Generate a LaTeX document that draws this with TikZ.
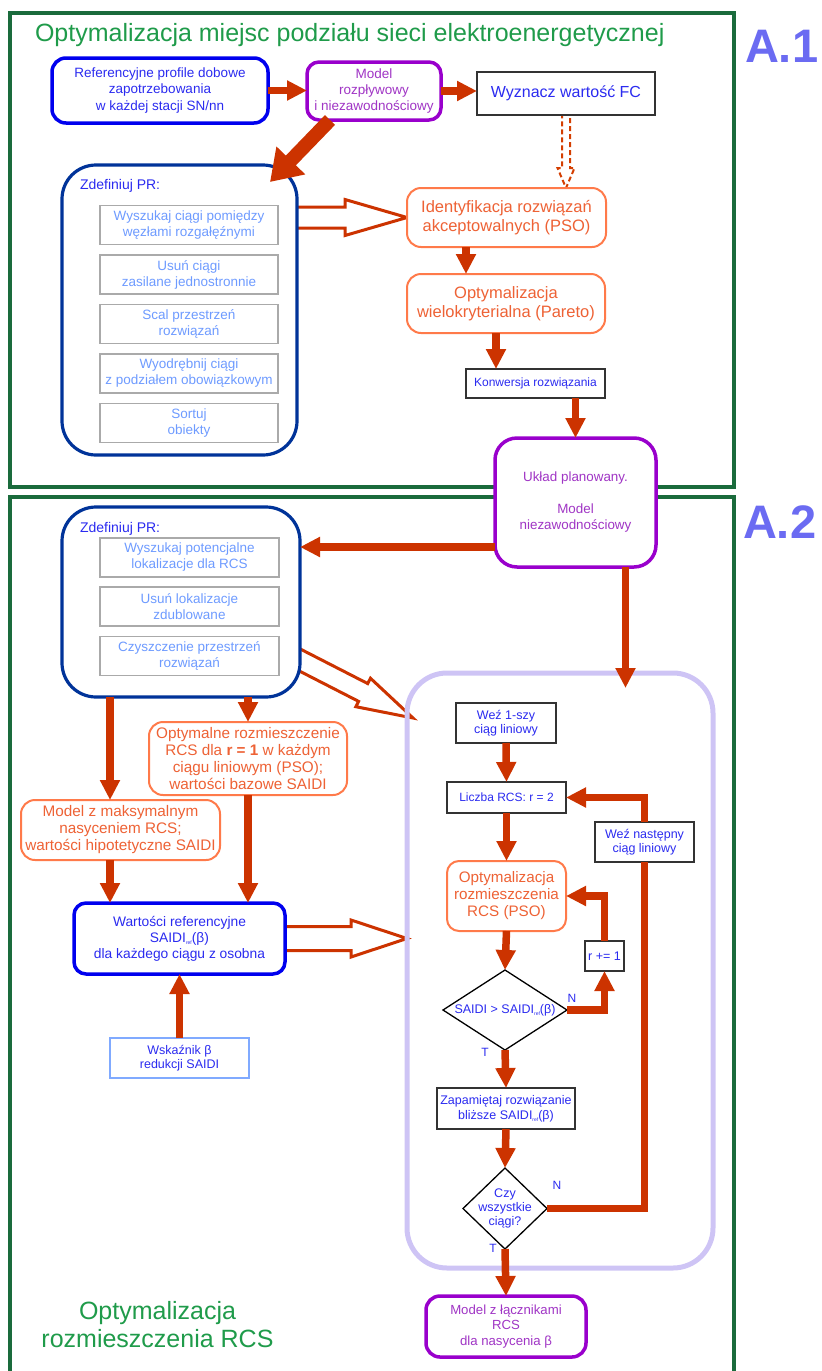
\documentclass[tikz,border=0pt]{standalone}
\usepackage{fontspec}
\setmainfont{Liberation Sans}
\usetikzlibrary{arrows.meta,shapes.geometric,calc}
\pgfdeclarelayer{bg}
\pgfsetlayers{bg,main}

\definecolor{framegreen}{HTML}{1A6B3C}
\definecolor{titlegreen}{HTML}{1F9B4A}
\definecolor{labelblue}{HTML}{6B6BF2}
\definecolor{flowred}{HTML}{CC3300}
\definecolor{nodeblue}{HTML}{0000EE}
\definecolor{textblue}{HTML}{2B2BF0}
\definecolor{navy}{HTML}{003399}
\definecolor{subgray}{HTML}{AAAAAA}
\definecolor{subtext}{HTML}{6E9BFF}
\definecolor{coral}{HTML}{FF7A4A}
\definecolor{coraltext}{HTML}{EE6235}
\definecolor{violet}{HTML}{9900CC}
\definecolor{violettext}{HTML}{A035C5}
\definecolor{lavender}{HTML}{CEC4F5}
\definecolor{paleblue}{HTML}{80AAFF}
\definecolor{boxblack}{HTML}{333333}

\newcommand\fsz[2]{\fontsize{#1}{#2}\selectfont}
\newcommand\saidiref{SAIDI\raisebox{-0.3ex}{\fontsize{5}{5}\selectfont ref}(β)}

% hollow block arrow: [style]{start}{tip}{half shaft}{half head}{head length}
\newcommand\hollowarrow[6][]{%
  \coordinate (ha-base) at ($(#3)!#6!(#2)$);
  \draw[hollow,#1] ($(#2)!#4!90:(#3)$) -- ($(ha-base)!#4!90:(#3)$)
    -- ($(ha-base)!#5!90:(#3)$) -- (#3) -- ($(ha-base)!#5!-90:(#3)$)
    -- ($(ha-base)!#4!-90:(#3)$) -- ($(#2)!#4!-90:(#3)$) -- cycle;
}

\tikzset{
  every node/.style={inner sep=0pt, outer sep=0pt, align=center},
  frame/.style={draw=framegreen, line width=4pt},
  bluebox/.style={draw=nodeblue, line width=3.5pt, rounded corners=14pt, fill=white, text=textblue},
  violetbox/.style={draw=violet, line width=3.5pt, rounded corners=14pt, fill=white, text=violettext},
  plainbox/.style={draw=boxblack, line width=1.8pt, fill=white, text=textblue},
  coralbox/.style={draw=coral, line width=2pt, rounded corners=14pt, fill=white, text=coraltext},
  prbox/.style={draw=navy, line width=3.2pt, rounded corners=34pt, fill=white},
  subbox/.style={draw=subgray, line width=1.8pt, fill=white, text=subtext,
    minimum width=178pt, minimum height=39pt, font=\fsz{13.5}{16}},
  decision/.style={shape=diamond, draw=black, line width=1.3pt, fill=white},
  flow/.style={draw=flowred, line width=7.5pt, -{Triangle[length=20pt,width=19pt]}},
  bigflow/.style={draw=flowred, line width=14pt, -{Triangle[length=30pt,width=38pt]}},
  flowline/.style={draw=flowred, line width=7.5pt},
  hollow/.style={draw=flowred, line width=3pt, fill=white, line join=miter},
  dashhollow/.style={draw=flowred!85!orange, line width=2pt, dash pattern=on 5pt off 3pt},
  lab/.style={text=textblue, font=\fsz{12}{14}},
}

\begin{document}
\begin{tikzpicture}[x=1pt, y=-1pt]
\useasboundingbox (0,0) rectangle (822,1371);

% section frames
\draw[frame] (10,13) rectangle (734,487);
\draw[frame] (10,1380) -- (10,497) -- (734,497) -- (734,1380);

\node[anchor=base west, text=titlegreen, font=\fsz{25}{28}] (title1) at (35,41)
  {Optymalizacja miejsc podziału sieci elektroenergetycznej};
\node[anchor=base west, text=labelblue, font=\fsz{47}{50}\bfseries] (tagA1) at (745,62) {A.1};
\node[anchor=base west, text=labelblue, font=\fsz{47}{50}\bfseries] (tagA2) at (743,538) {A.2};
\node[text=titlegreen, font=\fsz{25}{28}] (title2) at (157.5,1325)
  {Optymalizacja\\rozmieszczenia RCS};

% loop container
\node[draw=lavender, line width=5pt, rounded corners=40pt,
  minimum width=306pt, minimum height=595pt] (lav) at (560,970.5) {};

% ---- A.1 ----
\node[bluebox, minimum width=216pt, minimum height=65pt, font=\fsz{13.5}{16.5}] (ref) at (160,90.5)
  {Referencyjne profile dobowe\\zapotrzebowania\\w każdej stacji SN/nn};
\node[violetbox, rounded corners=12pt, minimum width=134pt, minimum height=58pt, font=\fsz{13.5}{16}] (mod) at (374,91)
  {Model\\rozpływowy\\i niezawodnościowy};
\node[plainbox, minimum width=178pt, minimum height=43pt, font=\fsz{16}{19}] (fc) at (566,93.5)
  {Wyznacz wartość FC};

\node[prbox, minimum width=235pt, minimum height=290pt] (pr1) at (179.5,310) {};
\node[anchor=base west, text=textblue, font=\fsz{14}{16}] (pr1t) at (80,189) {Zdefiniuj PR:};
\node[subbox] (s1) at (189,225) {Wyszukaj ciągi pomiędzy\\węzłami rozgałęźnymi};
\node[subbox] (s2) at (189,274.5) {Usuń ciągi\\zasilane jednostronnie};
\node[subbox] (s3) at (189,324) {Scal przestrzeń\\rozwiązań};
\node[subbox] (s4) at (189,373.5) {Wyodrębnij ciągi\\z podziałem obowiązkowym};
\node[subbox] (s5) at (189,423) {Sortuj\\obiekty};

\node[coralbox, minimum width=199pt, minimum height=59pt, font=\fsz{16.5}{18.5}] (ident) at (506.5,217.5)
  {Identyfikacja rozwiązań\\akceptowalnych (PSO)};
\node[coralbox, minimum width=198pt, minimum height=59pt, font=\fsz{16.5}{18.5}] (pareto) at (506,303.5)
  {Optymalizacja\\wielokryterialna (Pareto)};
\node[plainbox, minimum width=139pt, minimum height=29pt, font=\fsz{12}{14}] (konw) at (535.5,383.5)
  {Konwersja rozwiązania};
\node[violetbox, rounded corners=22pt, minimum width=161pt, minimum height=129pt, font=\fsz{13.4}{16}] (uklad) at (575.5,502.5)
  {Układ planowany.\\[16pt]Model\\niezawodnościowy};

% ---- A.2 ----
\node[prbox, minimum width=238pt, minimum height=190pt] (pr2) at (181,602) {};
\node[anchor=base west, text=textblue, font=\fsz{14}{16}] (pr2t) at (80,532) {Zdefiniuj PR:};
\node[subbox, minimum width=179pt] (q1) at (189.5,557.5) {Wyszukaj potencjalne\\lokalizacje dla RCS};
\node[subbox, minimum width=179pt] (q2) at (189.5,606.5) {Usuń lokalizacje\\zdublowane};
\node[subbox, minimum width=179pt] (q3) at (189.5,656) {Czyszczenie przestrzeń\\rozwiązań};

\node[coralbox, minimum width=198pt, minimum height=73pt, font=\fsz{15.3}{17}] (optr1) at (248,758.5)
  {Optymalne rozmieszczenie\\RCS dla \textbf{r = 1} w każdym\\ciągu liniowym (PSO);\\wartości bazowe SAIDI};
\node[coralbox, minimum width=199pt, minimum height=60pt, font=\fsz{15.3}{17}] (maxsat) at (120.5,830)
  {Model z maksymalnym\\nasyceniem RCS;\\wartości hipotetyczne SAIDI};
\node[bluebox, rounded corners=12pt, minimum width=211pt, minimum height=71pt, font=\fsz{13.8}{16}] (sref) at (179.5,938.5)
  {Wartości referencyjne\\\saidiref\\dla każdego ciągu z osobna};
\node[draw=paleblue, line width=1.5pt, fill=white, text=textblue, minimum width=139pt, minimum height=40pt,
  font=\fsz{12.5}{14.5}] (beta) at (179.5,1058) {Wskaźnik β\\redukcji SAIDI};

\node[plainbox, minimum width=100pt, minimum height=40pt, font=\fsz{12.5}{14.5}] (w1) at (506,723)
  {Weź 1-szy\\ciąg liniowy};
\node[plainbox, minimum width=119pt, minimum height=31pt, font=\fsz{12}{14}] (liczba) at (506.5,797.5)
  {Liczba RCS: r = 2};
\node[coralbox, rounded corners=12pt, minimum width=119pt, minimum height=70pt, font=\fsz{15.2}{17}] (optrcs) at (506.5,896)
  {Optymalizacja\\rozmieszczenia\\RCS (PSO)};
\node[decision, minimum width=124pt, minimum height=80pt] (d1) at (505,1010) {};
\node[text=textblue, font=\fsz{12.5}{14}] (d1t) at (d1) {SAIDI > \saidiref};
\node[plainbox, minimum width=39pt, minimum height=30pt, font=\fsz{12.5}{14}] (rinc) at (604.5,956) {r += 1};
\node[plainbox, minimum width=99pt, minimum height=40pt, font=\fsz{12.5}{14.5}] (next) at (644.5,842)
  {Weź następny\\ciąg liniowy};
\node[plainbox, minimum width=138pt, minimum height=41pt, font=\fsz{12.5}{15.3}] (zap) at (506,1108.5)
  {Zapamiętaj rozwiązanie\\bliższe \saidiref};
\node[decision, minimum width=84pt, minimum height=81pt] (d2) at (505,1208.5) {};
\node[text=textblue, font=\fsz{12.5}{14}] (d2t) at (d2) {Czy\\wszystkie\\ciągi?};
\node[violetbox, minimum width=160pt, minimum height=61pt, font=\fsz{13.2}{15.7}] (final) at (506,1326.5)
  {Model z łącznikami\\RCS\\dla nasycenia β};

% hollow block arrows, tucked under the boxes they leave
\begin{pgfonlayer}{bg}
  \coordinate (h1s) at ($(pr1.east |- ident.west)+(-6,0)$);
  \hollowarrow{h1s}{ident.west}{10.5pt}{18pt}{62pt}
  \coordinate (h2s) at ($(pr2.east)+(-8,54)$);
  \coordinate (h2e) at ($(lav.north west)+(6,45)$);
  \hollowarrow{h2s}{h2e}{10pt}{16pt}{56pt}
  \coordinate (h3s) at ($(sref.east)+(-6,0)$);
  \coordinate (h3e) at (lav.west |- sref.east);
  \hollowarrow{h3s}{h3e}{12pt}{18.5pt}{56pt}
  \coordinate (h4s) at ($(fc.south)+(0,-5)$);
  \coordinate (h4e) at (ident.north -| fc.south);
  \hollowarrow[dashhollow]{h4s}{h4e}{4pt}{8.5pt}{20pt}
\end{pgfonlayer}

% A.1 flow
\draw[flow] (ref.east) -- (ref.east -| mod.west);
\draw[flow] (mod.east) -- (mod.east -| fc.west);
\draw[bigflow] ($(mod.south west)+(23,0)$) -- ($(pr1.north east)+(-27,17)$);
\coordinate (a1) at ($(ident.south west)+(59,0)$);
\draw[flow] (a1) -- (a1 |- pareto.north);
\coordinate (a2) at ($(pareto.south west)+(89,0)$);
\draw[flow] (a2) -- (a2 |- konw.north);
\draw[flow] (konw.south -| uklad.north) -- (uklad.north);

% A.2 flow
\coordinate (a3) at ($(uklad.south west)+(0,-20)$);
\draw[flow] (a3) -- (a3 -| pr2.east);
\coordinate (a4) at ($(uklad.south)+(50,0)$);
\draw[flow] (a4) -- ($(a4 |- lav.north)+(0,15)$);
\coordinate (a5) at ($(pr2.south west)+(48,0)$);
\draw[flow] (a5) -- (a5 |- maxsat.north);
\draw[flow] (pr2.south -| optr1.north) -- (optr1.north);
\draw[flow] (a5 |- maxsat.south) -- (a5 |- sref.north);
\draw[flow] (optr1.south) -- (optr1.south |- sref.north);
\draw[flow] (beta.north) -- (sref.south);

% loop over linear sections
\draw[flow] (w1.south) -- (liczba.north);
\draw[flow] (liczba.south) -- (optrcs.north);
\draw[flow] (optrcs.south) -- (d1.north);
\draw[flow] (d1.east) -| (rinc.south);
\draw[flow] (rinc.north) |- (optrcs.east);
\draw[flow] (d1.south) -- (zap.north);
\draw[flow] (zap.south) -- (d2.north);
\draw[flowline] (d2.east) -| (next.south);
\draw[flow] (next.north) |- (liczba.east);
\draw[flow] (d2.south) -- (final.north);

\node[lab] (n1) at ($(d1.east)+(5,-12)$) {N};
\node[lab] (y1) at ($(d1.south)+(-20,2)$) {T};
\node[lab] (n2) at ($(d2.east)+(10,-23)$) {N};
\node[lab] (y2) at ($(d2.south)+(-12,-1)$) {T};
\end{tikzpicture}
\end{document}
